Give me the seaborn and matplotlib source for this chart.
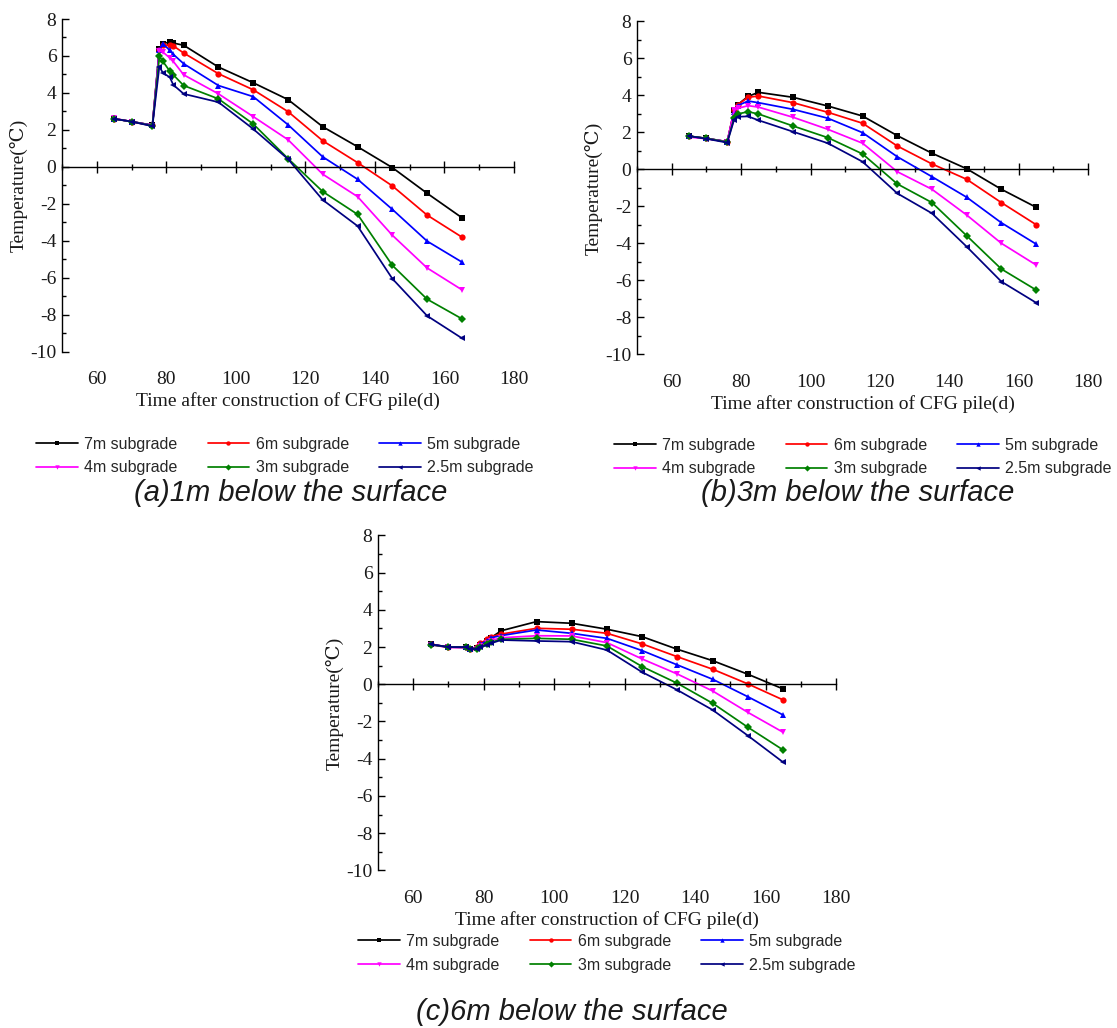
import numpy as np
import pandas as pd
import seaborn as sns
import matplotlib.pyplot as plt
from matplotlib.ticker import MultipleLocator, NullLocator

sns.set_theme(style='white')
plt.rcParams['font.family'] = ['Liberation Serif', 'DejaVu Serif', 'DejaVu Sans']
plt.rcParams['axes.unicode_minus'] = False

subgrades = ['7m subgrade', '6m subgrade', '5m subgrade',
             '4m subgrade', '3m subgrade', '2.5m subgrade']
colors = ['#000000', '#ff0000', '#0000ff', '#ff00ff', '#008000', '#000080']
markers = ['s', 'o', '^', 'v', 'D', '<']

x_ticks = [60, 80, 100, 120, 140, 160, 180]
y_ticks = [-10, -8, -6, -4, -2, 0, 2, 4, 6, 8]

# (a) 1m below the surface
days_a = [65, 70, 76, 78, 79, 81, 82, 85, 95, 105, 115, 125, 135, 145, 155, 165]
a_7m = [2.6, 2.45, 2.25, 6.4, 6.67, 6.76, 6.7, 6.58, 5.4, 4.55, 3.64, 2.17, 1.09, -0.04, -1.43, -2.75]
a_6m = [2.6, 2.45, 2.25, 6.3, 6.6, 6.58, 6.55, 6.16, 5.04, 4.17, 2.99, 1.41, 0.23, -1.03, -2.61, -3.8]
a_5m = [2.6, 2.45, 2.25, 6.3, 6.67, 6.3, 6.09, 5.58, 4.4, 3.8, 2.28, 0.54, -0.67, -2.3, -4.02, -5.15]
a_4m = [2.62, 2.45, 2.22, 6.27, 6.21, 5.9, 5.71, 4.98, 3.95, 2.72, 1.47, -0.4, -1.61, -3.7, -5.47, -6.65]
a_3m = [2.6, 2.45, 2.22, 5.98, 5.71, 5.18, 4.98, 4.4, 3.68, 2.32, 0.45, -1.34, -2.57, -5.33, -7.16, -8.22]
a_25m = [2.6, 2.45, 2.2, 5.43, 5.09, 4.85, 4.44, 3.95, 3.5, 2.05, 0.42, -1.79, -3.2, -6.05, -8.06, -9.27]

# (b) 3m below the surface
days_b = [65, 70, 76, 78, 79, 82, 85, 95, 105, 115, 125, 135, 145, 155, 165]
b_7m = [1.8, 1.68, 1.5, 3.2, 3.5, 3.95, 4.17, 3.9, 3.43, 2.89, 1.83, 0.88, 0.04, -1.07, -2.04]
b_6m = [1.8, 1.68, 1.5, 3.2, 3.5, 3.9, 3.97, 3.61, 3.09, 2.5, 1.27, 0.3, -0.53, -1.79, -2.98]
b_5m = [1.8, 1.68, 1.5, 3.1, 3.45, 3.7, 3.61, 3.25, 2.77, 1.99, 0.69, -0.39, -1.5, -2.88, -4.03]
b_4m = [1.75, 1.66, 1.5, 3.2, 3.3, 3.45, 3.37, 2.82, 2.17, 1.42, -0.12, -1.07, -2.46, -3.99, -5.16]
b_3m = [1.8, 1.68, 1.48, 2.8, 3.0, 3.12, 3.0, 2.35, 1.72, 0.84, -0.78, -1.79, -3.58, -5.38, -6.51]
b_25m = [1.8, 1.66, 1.45, 2.7, 2.85, 2.87, 2.66, 2.04, 1.42, 0.42, -1.29, -2.37, -4.17, -6.06, -7.2]

# (c) 6m below the surface
days_c = [65, 70, 75, 76, 78, 79, 81, 82, 85, 95, 105, 115, 125, 135, 145, 155, 165]
c_7m = [2.15, 2.0, 2.0, 1.92, 1.95, 2.1, 2.35, 2.5, 2.88, 3.37, 3.28, 2.96, 2.56, 1.88, 1.27, 0.54, -0.25]
c_6m = [2.15, 2.0, 2.0, 1.9, 1.98, 2.2, 2.42, 2.56, 2.7, 3.01, 2.96, 2.74, 2.17, 1.48, 0.81, 0.02, -0.84]
c_5m = [2.15, 2.0, 2.0, 1.9, 1.95, 2.15, 2.35, 2.5, 2.62, 2.92, 2.74, 2.47, 1.81, 1.04, 0.27, -0.67, -1.65]
c_4m = [2.12, 1.98, 1.95, 1.85, 1.9, 2.05, 2.2, 2.35, 2.5, 2.61, 2.6, 2.24, 1.36, 0.55, -0.36, -1.51, -2.58]
c_3m = [2.12, 2.0, 1.98, 1.88, 1.9, 2.0, 2.15, 2.25, 2.42, 2.47, 2.42, 2.06, 0.95, 0.05, -1.02, -2.31, -3.53]
c_25m = [2.15, 2.0, 2.0, 1.9, 1.9, 2.0, 2.1, 2.2, 2.38, 2.33, 2.29, 1.84, 0.65, -0.31, -1.38, -2.76, -4.19]

TEXT_COLOR = '#1a1a1a'


def draw_panel(fig, rect, days, series, legend_center, caption, caption_pos):
    ax = fig.add_axes(rect)
    frame = pd.DataFrame({
        'day': np.tile(days, len(subgrades)),
        'temp': np.concatenate(series),
        'subgrade': np.repeat(subgrades, len(days)),
    })
    sns.lineplot(data=frame, x='day', y='temp', hue='subgrade', style='subgrade',
                 hue_order=subgrades, style_order=subgrades, palette=colors,
                 markers=markers, dashes=False, markersize=4.5, markeredgewidth=0,
                 linewidth=1.25, ax=ax)

    ax.set_xlim(50, 180)
    ax.set_ylim(-10, 8)
    ax.set_xticks(x_ticks)
    ax.xaxis.set_minor_locator(MultipleLocator(10))
    ax.set_yticks(y_ticks)
    ax.yaxis.set_minor_locator(MultipleLocator(1))

    ax.spines['top'].set_visible(False)
    ax.spines['right'].set_visible(False)
    ax.spines['bottom'].set_position(('data', 0))
    for side in ['left', 'bottom']:
        ax.spines[side].set_color('black')
        ax.spines[side].set_linewidth(1.0)

    ax.tick_params(axis='x', which='major', direction='inout', length=8, width=1,
                   bottom=True, labelbottom=False, color='black')
    ax.tick_params(axis='x', which='minor', direction='inout', length=4.5, width=1,
                   bottom=True, color='black')
    ax.tick_params(axis='y', which='major', direction='in', length=5, width=1,
                   left=True, labelsize=14, labelcolor=TEXT_COLOR, pad=4, color='black')
    ax.tick_params(axis='y', which='minor', direction='in', length=3, width=1,
                   left=True, color='black')
    ax.set_xlabel('')
    ax.set_ylabel('Temperature(℃)', fontsize=14, color=TEXT_COLOR, labelpad=2)

    # tick labels sit under the plot, the axis line itself runs through zero
    sec = ax.secondary_xaxis('bottom')
    sec.set_xticks(x_ticks)
    sec.xaxis.set_minor_locator(NullLocator())
    sec.tick_params(length=0, pad=14, labelsize=14, labelcolor=TEXT_COLOR)
    sec.spines['bottom'].set_visible(False)
    sec.set_xlabel('Time after construction of CFG pile(d)', fontsize=14,
                   color=TEXT_COLOR, labelpad=3)

    leg = ax.get_legend()
    handles = leg.legend_handles
    labels = [t.get_text() for t in leg.get_texts()]
    pairs = [(h, l) for h, l in zip(handles, labels) if l in subgrades]
    order = [0, 3, 1, 4, 2, 5]
    hs = [pairs[i][0] for i in order]
    ls = [pairs[i][1] for i in order]
    for h in hs:
        h.set_markeredgewidth(0)
    ax.legend(hs, ls, ncol=3, loc='center', bbox_to_anchor=legend_center,
              bbox_transform=fig.transFigure, frameon=False,
              prop={'family': 'Liberation Sans', 'size': 11.5},
              handlelength=2.6, handletextpad=0.4, columnspacing=1.9,
              labelspacing=0.55, markerscale=0.7, borderpad=0)

    fig.text(caption_pos[0], caption_pos[1], caption, ha='center', va='center',
             family='Liberation Sans', style='italic', fontsize=21, color=TEXT_COLOR)
    return ax


fig = plt.figure(figsize=(11.17, 10.28), dpi=100)

draw_panel(fig, [0.0555, 0.6579, 0.4047, 0.3236], days_a,
           [a_7m, a_6m, a_5m, a_4m, a_3m, a_25m], (0.255, 0.5564),
           '(a)1m below the surface', (0.26, 0.5204))
draw_panel(fig, [0.5703, 0.6552, 0.4038, 0.3239], days_b,
           [b_7m, b_6m, b_5m, b_4m, b_3m, b_25m], (0.7726, 0.5554),
           '(b)3m below the surface', (0.768, 0.5204))
draw_panel(fig, [0.3384, 0.1534, 0.41, 0.3257], days_c,
           [c_7m, c_6m, c_5m, c_4m, c_3m, c_25m], (0.5434, 0.0725),
           '(c)6m below the surface', (0.512, 0.0156))

fig.savefig('out.png', dpi=100)
